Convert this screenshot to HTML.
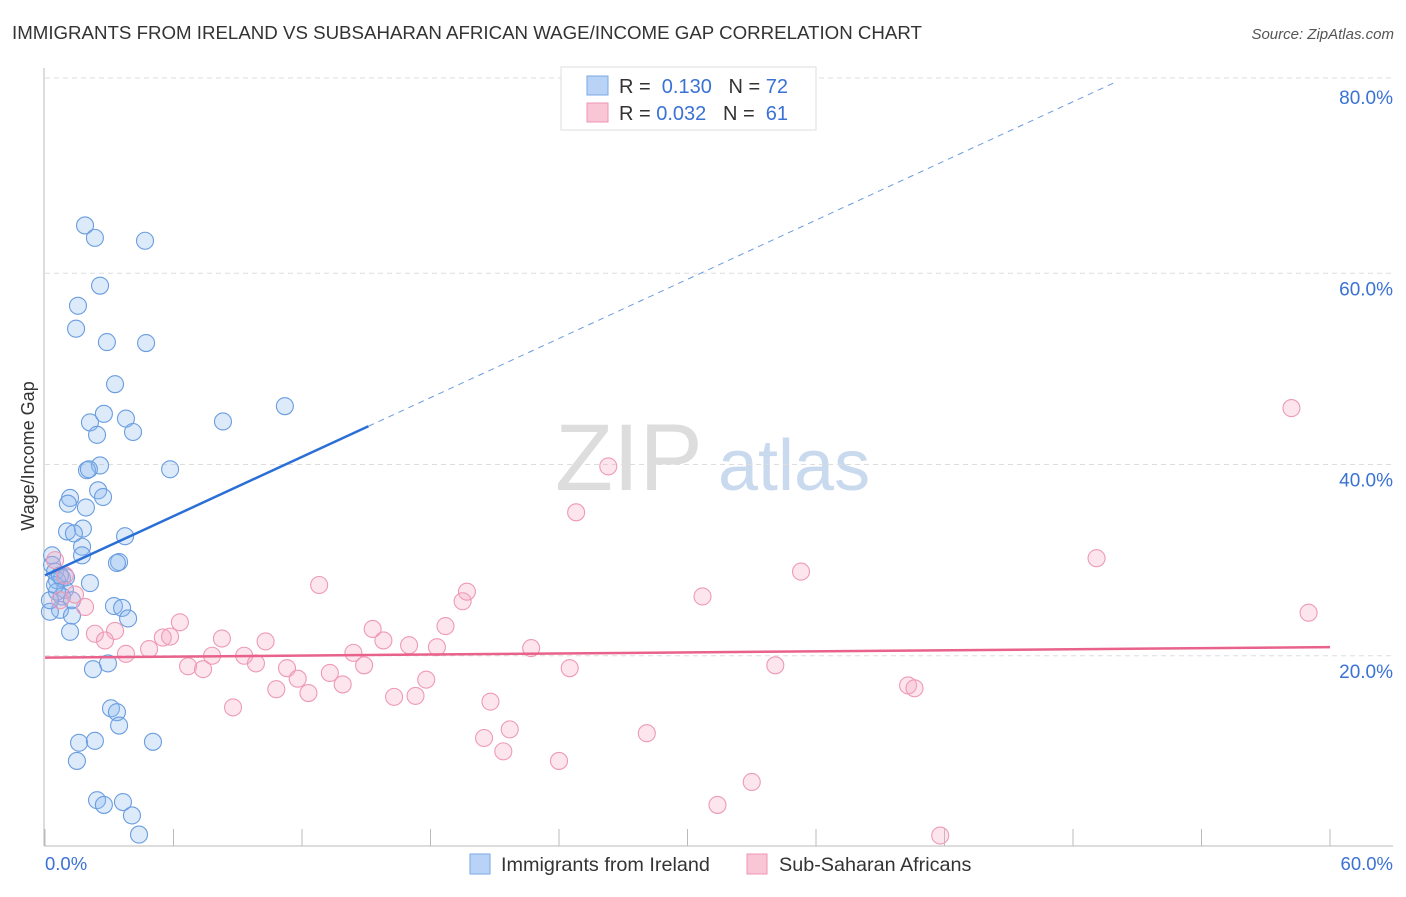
<!DOCTYPE html>
<html><head><meta charset="utf-8"><style>
body{margin:0;background:#fff;font-family:"Liberation Sans",sans-serif;}
svg text{font-family:"Liberation Sans",sans-serif;}
</style></head><body>
<svg width="1406" height="892" id="chart">
<text x="12" y="39" font-size="18.7" fill="#333">IMMIGRANTS FROM IRELAND VS SUBSAHARAN AFRICAN WAGE/INCOME GAP CORRELATION CHART</text>
<text x="1394" y="39" font-size="15" fill="#555" font-style="italic" text-anchor="end">Source: ZipAtlas.com</text>
<text x="34" y="456" font-size="18" fill="#333" transform="rotate(-90 34 456)" text-anchor="middle">Wage/Income Gap</text>
<text x="555" y="490" font-size="95" fill="#ddd" font-family="Liberation Serif">ZIP</text>
<text x="718" y="490" font-size="72" fill="#c9d9ee">atlas</text>
<g id="grid"></g><g id="pts"></g><g id="lines"></g>
<g>
<rect x="561" y="67" width="255" height="63" fill="#fff" stroke="#ddd"/>
<rect x="587" y="76" width="21" height="19" fill="#b8d3f5" stroke="#7aa8e6"/>
<rect x="587" y="103" width="21" height="19" fill="#f9c6d6" stroke="#ef94b1"/>
<text x="619" y="93" font-size="20" fill="#333">R = <tspan fill="#3a72d4">&#160;0.130</tspan>&#160;&#160;&#160;N = <tspan fill="#3a72d4">72</tspan></text>
<text x="619" y="120" font-size="20" fill="#333">R = <tspan fill="#3a72d4">0.032</tspan>&#160;&#160;&#160;N = <tspan fill="#3a72d4">&#160;61</tspan></text>
</g>
<g>
<rect x="470" y="854" width="20" height="20" fill="#b8d3f5" stroke="#7aa8e6"/>
<text x="501" y="871" font-size="19.8" fill="#333">Immigrants from Ireland</text>
<rect x="747" y="854" width="20" height="20" fill="#f9c6d6" stroke="#ef94b1"/>
<text x="779" y="871" font-size="19.8" fill="#333">Sub-Saharan Africans</text>
</g>
<text x="45" y="870" font-size="18.5" fill="#3a72d4">0.0%</text>
<text x="1393" y="870" font-size="18.5" fill="#3a72d4" text-anchor="end">60.0%</text>
</svg>
<script>
const yTicks=[20,40,60,80];
const blueX=[1.87,2.33,4.67,2.57,1.54,1.45,2.89,4.72,3.27,11.2,8.31,2.1,2.75,3.78,2.43,4.11,2.57,1.96,2.05,5.84,2.48,1.17,2.71,1.07,1.91,1.03,1.77,1.35,3.74,1.73,1.73,0.33,3.46,3.36,0.33,0.47,0.79,0.56,0.98,2.1,0.93,0.56,0.79,1.26,3.22,3.6,0.7,0.23,3.88,1.26,1.17,2.94,2.24,3.08,3.36,3.46,1.59,2.33,5.04,1.49,2.43,2.75,3.64,4.06,4.39,0.47,0.23,0.7];
const blueY=[65.0,63.7,63.4,58.7,56.6,54.2,52.8,52.7,48.4,46.1,44.5,44.4,45.3,44.8,43.1,43.4,39.9,39.4,39.5,39.5,37.3,36.5,36.6,35.9,35.5,33.0,33.3,32.8,32.5,31.4,30.5,30.5,29.8,29.7,29.5,28.8,28.1,27.9,28.2,27.6,26.9,26.7,26.2,25.8,25.2,25.0,24.8,24.6,23.9,24.2,22.5,19.2,18.6,14.5,14.1,12.7,10.9,11.1,11.0,9.0,4.9,4.4,4.7,3.3,1.3,27.4,25.8,28.4];
const pinkX=[58.2,26.3,24.8,49.1,35.3,12.8,19.7,19.5,30.7,59.0,6.3,18.7,15.3,3.27,2.33,2.8,5.5,5.84,8.26,10.3,15.8,17.0,18.3,22.7,4.86,3.78,7.8,9.3,14.4,9.85,6.68,7.38,11.3,14.9,24.5,34.1,11.8,13.3,13.9,17.8,10.8,12.3,16.3,17.3,40.3,40.6,20.8,8.78,21.7,20.5,28.1,21.4,24.0,33.0,31.4,41.8,0.47,0.93,1.87,1.4,0.7];
const pinkY=[45.9,39.8,35.0,30.2,28.8,27.4,26.7,25.7,26.2,24.5,23.5,23.1,22.8,22.6,22.3,21.6,21.9,22.0,21.8,21.5,21.6,21.1,20.9,20.8,20.7,20.2,20.0,20.0,20.3,19.2,18.9,18.6,18.7,19.0,18.7,19.0,17.6,18.2,17.0,17.5,16.5,16.1,15.7,15.8,16.9,16.6,15.2,14.6,12.3,11.4,11.9,10.0,9.0,6.8,4.4,1.2,30.0,28.4,25.1,26.4,25.8];
const blueTrend=[[0,28.4],[15.1,44.0],[50,80]];
const pinkTrend=[[0,19.8],[60,20.9]];
const NS='http://www.w3.org/2000/svg';
const X=v=>45+v/60*1285, Y=v=>847-v*9.5625;
function mk(t,a,p){const e=document.createElementNS(NS,t);for(const k in a)e.setAttribute(k,a[k]);p.appendChild(e);return e;}
const g=document.getElementById('grid');
yTicks.forEach(t=>{
 const gy=t===80?78:Y(t);
 const l=mk('line',{x1:45,x2:1393,y1:gy,y2:gy,stroke:'#ddd','stroke-dasharray':'5,4'},g);
 
 
 const tx=mk('text',{x:1393,y:Y(t)+22,'font-size':19,fill:'#3a72d4','text-anchor':'end'},g);
 tx.textContent=t.toFixed(1)+'%';
 
 
});
mk('line',{x1:44,x2:44,y1:68,y2:846,stroke:'#bbb'},g);
mk('line',{x1:44,x2:1393,y1:846,y2:846,stroke:'#bbb'},g);
for(let i=0;i<=10;i++){mk('line',{x1:X(i*6),x2:X(i*6),y1:829,y2:846,stroke:'#bbb'},g);}
const p=document.getElementById('pts');
blueX.forEach((v,i)=>{
 const c=mk('circle',{cx:X(v),cy:Y(blueY[i]),r:8.5,fill:'rgba(140,185,240,0.3)',stroke:'#6a9de0','stroke-width':1.1},p);
 
 
});
pinkX.forEach((v,i)=>{
 const c=mk('circle',{cx:X(v),cy:Y(pinkY[i]),r:8.5,fill:'rgba(245,170,195,0.3)',stroke:'#ee9ab5','stroke-width':1.1},p);
 
 
});
const L=document.getElementById('lines');
const b1=mk('line',{x1:X(blueTrend[0][0]),y1:Y(blueTrend[0][1]),x2:X(blueTrend[1][0]),y2:Y(blueTrend[1][1]),stroke:'#2a6fd6','stroke-width':2.5},L);


const b2=mk('line',{x1:X(blueTrend[1][0]),y1:Y(blueTrend[1][1]),x2:X(blueTrend[2][0]),y2:Y(blueTrend[2][1]),stroke:'#6b9be0','stroke-width':1,'stroke-dasharray':'6,5'},L);


const pl=mk('line',{x1:X(pinkTrend[0][0]),y1:Y(pinkTrend[0][1]),x2:X(pinkTrend[1][0]),y2:Y(pinkTrend[1][1]),stroke:'#e8628c','stroke-width':2.5},L);


</script>
</body></html>
